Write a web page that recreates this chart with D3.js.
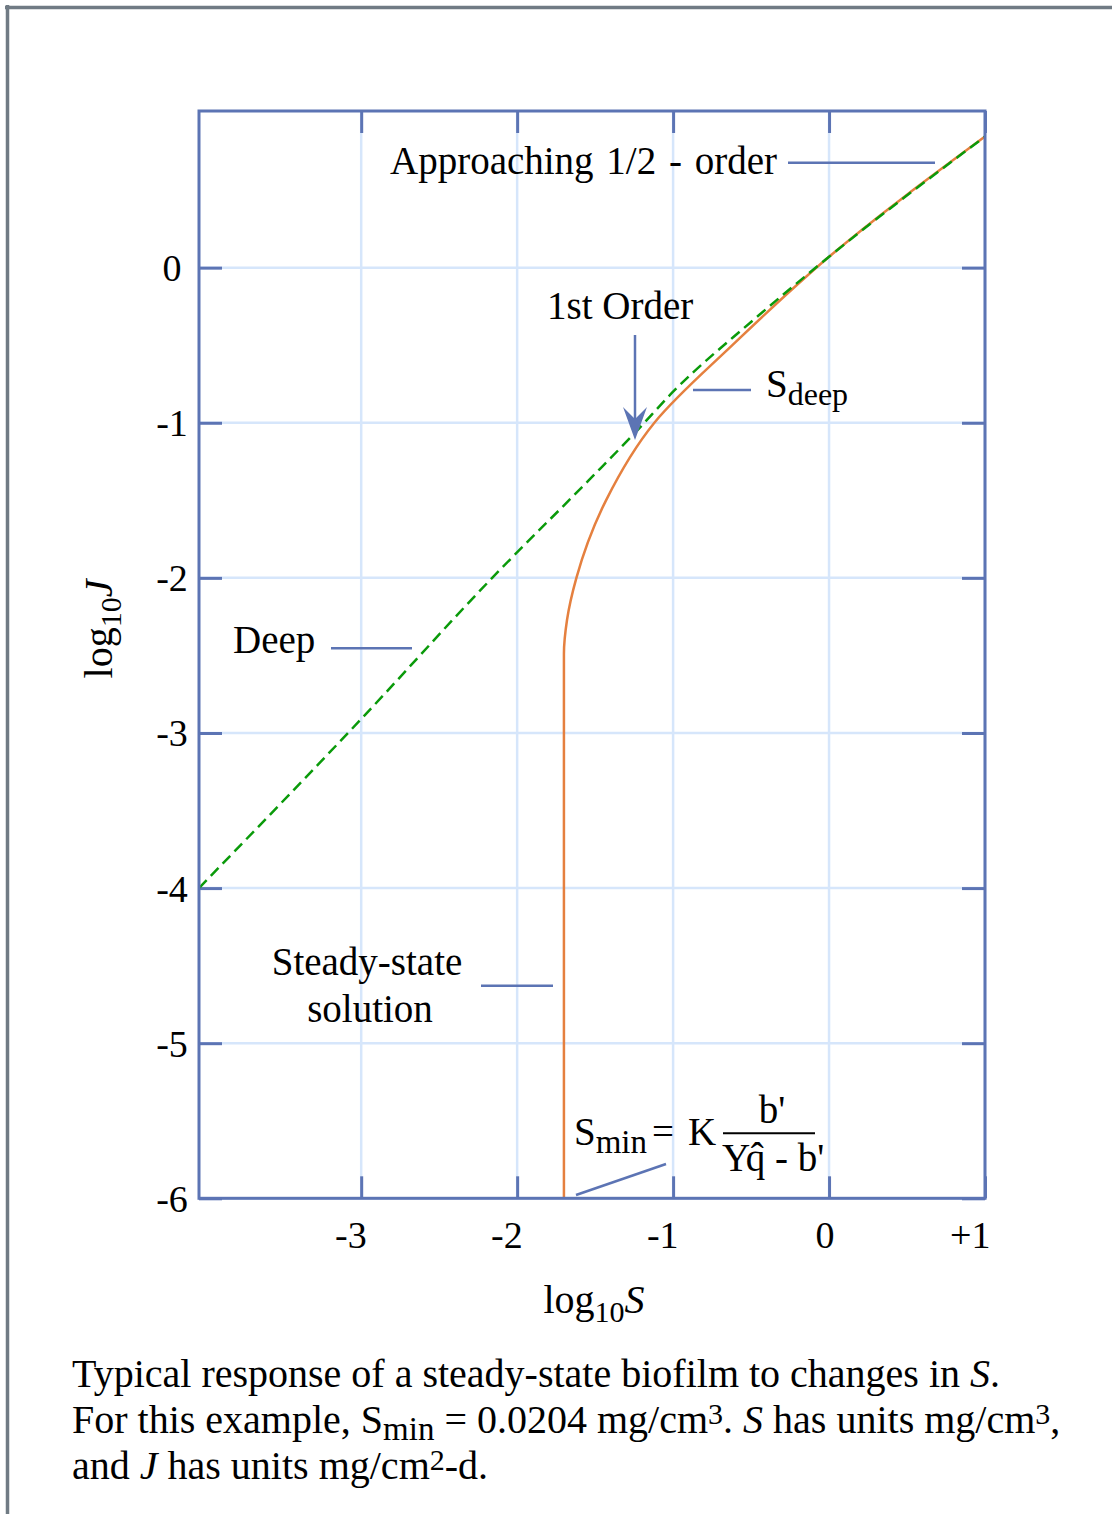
<!DOCTYPE html>
<html>
<head>
<meta charset="utf-8">
<script src="https://cdn.jsdelivr.net/npm/d3@7"></script>
<style>
body { margin: 0; background: #fff; }
svg { display: block; font-family: "Liberation Serif", "Times New Roman", serif; }
</style>
</head>
<body>
<div id="chart"></div>
<script>
// values: x = log10 S, y = log10 J
var deepX = [-4.04, -3.0, -2.16, -1.54, -1.24, -1.0, -0.5, 0, 1.0];
var deepY = [-4.0, -2.91, -2.0, -1.37, -1.06, -0.80, -0.35, 0.07, 0.845];

var sdeepX = [-1.70, -1.70, -1.68, -1.62, -1.43, -1.12, -0.62, 0, 1.0];
var sdeepY = [-6.0, -2.49, -2.27, -2.0, -1.5, -1.0, -0.5, 0.07, 0.845];

var xTicks = [-3, -2, -1, 0, 1];
var xTickLabels = ["-3", "-2", "-1", "0", "+1"];
var yTicks = [0, -1, -2, -3, -4, -5, -6];
var yTickLabels = ["0", "-1", "-2", "-3", "-4", "-5", "-6"];

var width = 1112, height = 1514;
var plot = {left: 199, right: 985, top: 111, bottom: 1198.3};

var axisColor = "#5c74b4",
    gridColor = "#d6e6fb",
    orange = "#e5803f",
    green = "#0a9a0a";

var x = d3.scaleLinear().domain([-4.04, 1]).range([plot.left, plot.right]);
var y = d3.scaleLinear().domain([-6, 1.01]).range([plot.bottom, plot.top]);

var svg = d3.select("#chart").append("svg")
    .attr("width", width)
    .attr("height", height);

// grey frame on top and left
svg.append("line").attr("x1", 5).attr("x2", width).attr("y1", 7.5).attr("y2", 7.5)
    .attr("stroke", "#707b84").attr("stroke-width", 3.5);
svg.append("line").attr("x1", 7.5).attr("x2", 7.5).attr("y1", 5).attr("y2", height)
    .attr("stroke", "#707b84").attr("stroke-width", 3.5);

// grid
svg.append("g").selectAll("line").data(xTicks).enter().append("line")
    .attr("x1", function(d) { return x(d); })
    .attr("x2", function(d) { return x(d); })
    .attr("y1", plot.top).attr("y2", plot.bottom)
    .attr("stroke", gridColor).attr("stroke-width", 2.5);
svg.append("g").selectAll("line").data(yTicks).enter().append("line")
    .attr("x1", plot.left).attr("x2", plot.right)
    .attr("y1", function(d) { return y(d); })
    .attr("y2", function(d) { return y(d); })
    .attr("stroke", gridColor).attr("stroke-width", 2.5);

// inward ticks on all four sides
function ticks(g) {
    g.select(".domain").remove();
    g.selectAll(".tick line").attr("stroke", axisColor).attr("stroke-width", 3);
}
svg.append("g").attr("transform", "translate(0," + plot.bottom + ")")
    .call(d3.axisBottom(x).tickValues(xTicks).tickSize(-22).tickFormat(""))
    .call(ticks);
svg.append("g").attr("transform", "translate(0," + plot.top + ")")
    .call(d3.axisTop(x).tickValues(xTicks).tickSize(-22).tickFormat(""))
    .call(ticks);
svg.append("g").attr("transform", "translate(" + plot.left + ",0)")
    .call(d3.axisLeft(y).tickValues(yTicks).tickSize(-23).tickFormat(""))
    .call(ticks);
svg.append("g").attr("transform", "translate(" + plot.right + ",0)")
    .call(d3.axisRight(y).tickValues(yTicks).tickSize(-23).tickFormat(""))
    .call(ticks);

// tick labels
var xLab = svg.append("g").attr("transform", "translate(0," + plot.bottom + ")")
    .call(d3.axisBottom(x).tickValues(xTicks).tickSize(0)
        .tickFormat(function(d, i) { return xTickLabels[i]; }));
xLab.select(".domain").remove();
xLab.selectAll("text")
    .attr("font-family", "Liberation Serif").attr("font-size", 38).attr("fill", "#000")
    .attr("text-anchor", "end").attr("x", 5).attr("y", 50).attr("dy", 0);

var yLab = svg.append("g").attr("transform", "translate(" + plot.left + ",0)")
    .call(d3.axisLeft(y).tickValues(yTicks).tickSize(0)
        .tickFormat(function(d, i) { return yTickLabels[i]; }));
yLab.select(".domain").remove();
yLab.selectAll("text")
    .attr("font-family", "Liberation Serif").attr("font-size", 38).attr("fill", "#000")
    .attr("text-anchor", "middle").attr("x", -27).attr("dy", "0.34em");

// curves
var deep = deepX.map(function(d, i) { return [d, deepY[i]]; });
var sdeep = sdeepX.map(function(d, i) { return [d, sdeepY[i]]; });

var deepLine = d3.line()
    .x(function(d) { return x(d[0]); })
    .y(function(d) { return y(d[1]); })
    .curve(d3.curveMonotoneX);

// x is a function of y along the steady-state curve (vertical at Smin)
var sdeepLine = d3.line()
    .x(function(d) { return x(d[0]); })
    .y(function(d) { return y(d[1]); })
    .curve(d3.curveMonotoneY);

svg.append("path").datum(sdeep)
    .attr("d", sdeepLine)
    .attr("fill", "none").attr("stroke", orange).attr("stroke-width", 2.5);

svg.append("path").datum(deep)
    .attr("d", deepLine)
    .attr("fill", "none").attr("stroke", green).attr("stroke-width", 2.5)
    .attr("stroke-dasharray", "11,6");

// plot border
svg.append("rect")
    .attr("x", plot.left).attr("y", plot.top)
    .attr("width", plot.right - plot.left).attr("height", plot.bottom - plot.top)
    .attr("fill", "none").attr("stroke", axisColor).attr("stroke-width", 3);

// annotations
var fs = 39;
function label(xp, yp, txt, anchor) {
    return svg.append("text").attr("x", xp).attr("y", yp)
        .attr("font-size", fs).attr("text-anchor", anchor || "start").text(txt);
}
function leader(x1, y1, x2, y2) {
    svg.append("line").attr("x1", x1).attr("y1", y1).attr("x2", x2).attr("y2", y2)
        .attr("stroke", axisColor).attr("stroke-width", 2.5);
}

label(390, 174, "Approaching 1/2 - order").attr("word-spacing", 3);
leader(788, 162.7, 935, 162.7);

label(547, 319, "1st Order");
leader(635, 335, 635, 420);
svg.append("path")
    .attr("d", "M635,440 L623,407 L635,419 L647,407 Z")
    .attr("fill", axisColor);

var sd = label(766, 397, "S");
sd.append("tspan").attr("font-size", 32).attr("dy", 8).text("deep");
leader(693, 390, 751, 390);

label(233, 653, "Deep");
leader(331, 648.3, 412, 648.3);

label(367, 975, "Steady-state", "middle");
label(370, 1022, "solution", "middle");
leader(481, 985.7, 553, 985.7);

var sm = label(574, 1145, "S");
sm.append("tspan").attr("font-size", 33).attr("dy", 8).text("min");
label(652, 1145, "=");
label(688, 1145, "K");
svg.append("line").attr("x1", 723).attr("x2", 815).attr("y1", 1133.3).attr("y2", 1133.3)
    .attr("stroke", "#000").attr("stroke-width", 2);
label(772, 1123, "b'", "middle");
label(722, 1171, "Yq\u0302 - b'");
leader(576, 1195, 666, 1164);

// axis titles
var xt = svg.append("text").attr("x", 594).attr("y", 1313)
    .attr("font-size", 40).attr("text-anchor", "middle");
xt.append("tspan").text("log");
xt.append("tspan").attr("font-size", 30).attr("dy", 9).text("10");
xt.append("tspan").attr("font-style", "italic").attr("dy", -9).text("S");

var yt = svg.append("text")
    .attr("transform", "translate(112,629) rotate(-90)")
    .attr("font-size", 40).attr("text-anchor", "middle");
yt.append("tspan").text("log");
yt.append("tspan").attr("font-size", 30).attr("dy", 9).text("10");
yt.append("tspan").attr("font-style", "italic").attr("dy", -9).text("J");

// caption
var cap = svg.append("g").attr("font-size", 40);
var c1 = cap.append("text").attr("x", 72).attr("y", 1387);
c1.append("tspan").text("Typical response of a steady-state biofilm to changes in ");
c1.append("tspan").attr("font-style", "italic").text("S");
c1.append("tspan").text(".");

var c2 = cap.append("text").attr("x", 72).attr("y", 1433);
c2.append("tspan").text("For this example, S");
c2.append("tspan").attr("font-size", 33).attr("dy", 7).text("min");
c2.append("tspan").attr("dy", -7).text(" = 0.0204 mg/cm");
c2.append("tspan").attr("font-size", 30).attr("dy", -9).text("3");
c2.append("tspan").attr("dy", 9).text(". ");
c2.append("tspan").attr("font-style", "italic").text("S");
c2.append("tspan").text(" has units mg/cm");
c2.append("tspan").attr("font-size", 30).attr("dy", -9).text("3");
c2.append("tspan").attr("dy", 9).text(",");

var c3 = cap.append("text").attr("x", 72).attr("y", 1479);
c3.append("tspan").text("and ");
c3.append("tspan").attr("font-style", "italic").text("J");
c3.append("tspan").text(" has units mg/cm");
c3.append("tspan").attr("font-size", 30).attr("dy", -9).text("2");
c3.append("tspan").attr("dy", 9).text("-d.");
</script>
</body>
</html>
